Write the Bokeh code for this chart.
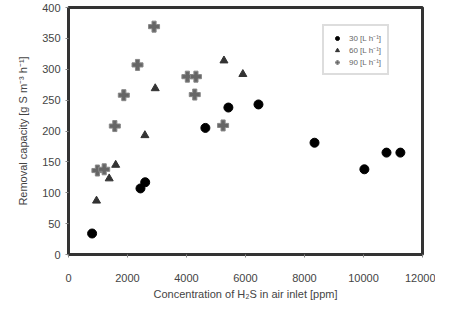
from bokeh.plotting import figure
from bokeh.models import Range1d, Legend, LegendItem, FixedTicker
from bokeh.embed import file_html
from bokeh.resources import INLINE

# 30 L/h series
x30 = [800, 2440, 2600, 4640, 5420, 6440, 8340, 10030, 10780, 11250]
y30 = [34, 107, 117, 205, 238, 243, 181, 138, 165, 165]
# 60 L/h series
x60 = [950, 1380, 1600, 2590, 2940, 5270, 5910]
y60 = [87, 123, 145, 193, 269, 314, 292]
# 90 L/h series
x90 = [980, 1210, 1570, 1875, 2340, 2900, 4030, 4320, 4280, 5240]
y90 = [136, 138, 208, 258, 307, 369, 288, 288, 259, 209]

series_labels = ["30 [L h\u207b\u00b9]", "60 [L h\u207b\u00b9]", "90 [L h\u207b\u00b9]"]
x_ticks = [0, 2000, 4000, 6000, 8000, 10000, 12000]
y_ticks = [0, 50, 100, 150, 200, 250, 300, 350, 400]

FONT = "Liberation Sans"

p = figure(width=435, height=305, output_backend="svg", toolbar_location=None,
           x_range=Range1d(0, 12000), y_range=Range1d(0, 400),
           min_border_left=68, min_border_right=13, min_border_top=7, min_border_bottom=51)
p.grid.visible = False
p.outline_line_color = "#333333"
p.outline_line_width = 3

for ax in (p.xaxis[0], p.yaxis[0]):
    ax.axis_line_color = "#333333"
    ax.axis_line_width = 3
    ax.major_tick_line_color = "#888888"
    ax.major_tick_in = 0
    ax.major_tick_out = 3
    ax.minor_tick_line_color = None
    ax.major_label_text_font = FONT
    ax.major_label_text_font_size = "11px"
    ax.major_label_text_color = "#444444"
    ax.axis_label_text_font = FONT
    ax.axis_label_text_font_size = "11px"
    ax.axis_label_text_font_style = "normal"
    ax.axis_label_text_color = "#444444"

p.xaxis.ticker = FixedTicker(ticks=x_ticks)
p.yaxis.ticker = FixedTicker(ticks=y_ticks)
p.xaxis.axis_label = "Concentration of H\u2082S in air inlet [ppm]"
p.yaxis.axis_label = "Removal capacity [g S m\u207b\u00b3 h\u207b\u00b9]"
p.xaxis.major_label_standoff = 16
p.xaxis.axis_label_standoff = 3
p.yaxis.axis_label_standoff = 10

r30 = p.scatter(x30, y30, marker="circle", size=9, fill_color="black", line_color="black")
r60 = p.scatter(x60, y60, marker="triangle", size=8, fill_color="#333333", line_color="#333333")
r90 = p.scatter(x90, y90, marker="plus", size=11, fill_color="#666666", line_color="#888888")

legend = Legend(items=[LegendItem(label=series_labels[0], renderers=[r30]),
                       LegendItem(label=series_labels[1], renderers=[r60]),
                       LegendItem(label=series_labels[2], renderers=[r90])],
                location=(254, 179))
legend.border_line_color = "#bbbbbb"
legend.border_line_width = 2
legend.label_text_font = FONT
legend.label_text_font_size = "8px"
legend.label_text_color = "#666666"
legend.glyph_width = 14
legend.glyph_height = 10
legend.label_height = 10
legend.spacing = 1
legend.padding = 6
legend.margin = 0
p.add_layout(legend)

open("out.html", "w").write(file_html(p, INLINE))
